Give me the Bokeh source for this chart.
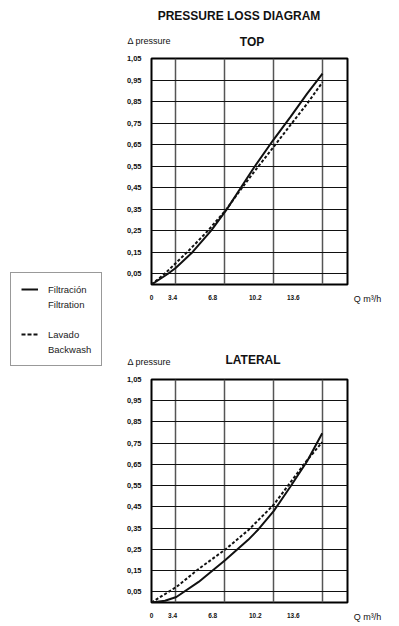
from bokeh.plotting import figure
from bokeh.layouts import row, column
from bokeh.models import Range1d, FixedTicker, Label, Legend, LegendItem
from bokeh.embed import file_html
from bokeh.resources import INLINE

FONT = "Liberation Sans"

# ---- data -------------------------------------------------------------
main_title = "PRESSURE LOSS DIAGRAM"
chart_titles = ["TOP", "LATERAL"]
y_title = "Δ pressure"
x_title = "Q m³/h"

x_grid = [1.7, 5.1, 8.5, 11.9]
x_tick_pos = [0, 1.47, 4.26, 7.22, 9.87]
x_tick_labels = ["0", "3.4", "6.8", "10.2", "13.6"]
x_end = 13.64

y_ticks = [0.05, 0.15, 0.25, 0.35, 0.45, 0.55, 0.65, 0.75, 0.85, 0.95, 1.05]
y_tick_labels = ["0,05", "0,15", "0,25", "0,35", "0,45", "0,55", "0,65",
                 "0,75", "0,85", "0,95", "1,05"]
y_grid = y_ticks[:-1]
y_end = 1.05

filt_label = ["Filtración", "Filtration"]
back_label = ["Lavado", "Backwash"]

top_filt_q = [0, 1.15, 1.7, 2.85, 4.15, 5.25, 6.17, 7.1, 8.46, 9.66, 10.83, 11.9]
top_filt_dp = [0, 0.05, 0.078, 0.15, 0.25, 0.35, 0.445, 0.54, 0.67, 0.778, 0.887, 0.98]
top_back_q = [0, 0.92, 2.48, 3.93, 5.22, 6.04, 7.1, 8.46, 9.66, 10.83, 11.9]
top_back_dp = [0, 0.05, 0.15, 0.25, 0.35, 0.426, 0.52, 0.636, 0.74, 0.84, 0.94]

lat_filt_q = [0, 0.94, 1.73, 3.28, 5.14, 6.73, 7.45, 8.5, 9.66, 10.83, 11.88]
lat_filt_dp = [0, 0.008, 0.026, 0.097, 0.2, 0.295, 0.345, 0.43, 0.545, 0.665, 0.797]
lat_back_q = [0, 0.45, 1.73, 3.28, 5.14, 6.73, 8.5, 9.66, 10.83, 11.88]
lat_back_dp = [0, 0.019, 0.073, 0.158, 0.25, 0.34, 0.46, 0.565, 0.67, 0.755]

INK = "#111111"


def text_fig(width, height):
    f = figure(width=width, height=height, output_backend="svg", toolbar_location=None,
               x_range=Range1d(0, width), y_range=Range1d(0, height),
               x_axis_type=None, y_axis_type=None, min_border=0)
    f.outline_line_color = None
    f.grid.visible = False
    return f


def add_label(f, x, y, text, size, bold=False, align="left"):
    f.add_layout(Label(x=x, y=y, text=text, text_font=FONT, text_font_size=size,
                       text_font_style="bold" if bold else "normal",
                       text_align=align, text_baseline="middle", text_color=INK))


def make_chart(height, b_bottom, fq, fdp, bq, bdp):
    p = figure(width=230, height=height, output_backend="svg", toolbar_location=None,
               x_range=Range1d(0, x_end), y_range=Range1d(0, y_end),
               min_border_left=28, min_border_right=6,
               min_border_top=5, min_border_bottom=b_bottom)
    p.outline_line_color = "black"
    p.outline_line_width = 2

    p.xaxis.ticker = FixedTicker(ticks=x_tick_pos)
    p.xaxis.major_label_overrides = {v: t for v, t in zip(x_tick_pos, x_tick_labels)}
    p.yaxis.ticker = FixedTicker(ticks=y_ticks)
    p.yaxis.major_label_overrides = {v: t for v, t in zip(y_ticks, y_tick_labels)}
    for ax in (p.xaxis, p.yaxis):
        ax.axis_line_color = None
        ax.major_tick_line_color = None
        ax.minor_tick_line_color = None
        ax.major_label_text_font = FONT
        ax.major_label_text_font_style = "bold"
        ax.major_label_text_color = INK
    p.xaxis.major_label_text_font_size = "6.5px"
    p.xaxis.major_label_standoff = 4
    p.yaxis.major_label_text_font_size = "7.5px"
    p.yaxis.major_label_standoff = 4

    p.xgrid.ticker = FixedTicker(ticks=x_grid)
    p.ygrid.ticker = FixedTicker(ticks=y_grid)
    p.xgrid.grid_line_color = "#555555"
    p.xgrid.grid_line_width = 1.5
    p.ygrid.grid_line_color = INK
    p.ygrid.grid_line_width = 1

    p.line(fq, fdp, line_color=INK, line_width=2)
    p.line(bq, bdp, line_color=INK, line_width=2, line_dash="3 2")
    return p


def q_axis_fig(height, b_bottom):
    # narrow panel right of the chart: its x axis carries the "Q m³/h" caption
    f = figure(width=44, height=height, output_backend="svg", toolbar_location=None,
               x_range=Range1d(0, 44), y_range=Range1d(0, y_end),
               y_axis_type=None, min_border_left=0, min_border_right=0,
               min_border_top=5, min_border_bottom=b_bottom)
    f.outline_line_color = None
    f.grid.visible = False
    f.xaxis.ticker = FixedTicker(ticks=[14])
    f.xaxis.major_label_overrides = {14: x_title}
    f.xaxis.axis_line_color = None
    f.xaxis.major_tick_line_color = None
    f.xaxis.minor_tick_line_color = None
    f.xaxis.major_label_text_font = FONT
    f.xaxis.major_label_text_font_size = "9px"
    f.xaxis.major_label_text_color = INK
    f.xaxis.major_label_standoff = 3
    return f


# top block
head_top = text_fig(274, 53)
add_label(head_top, 115.5, 38, main_title, "12px", bold=True, align="center")
add_label(head_top, 128.5, 11.5, chart_titles[0], "12px", bold=True, align="center")
add_label(head_top, 4, 13, y_title, "9px")

top = make_chart(267, 36, top_filt_q, top_filt_dp, top_back_q, top_back_dp)
q_top = q_axis_fig(267, 36)

# bottom block
head_bot = text_fig(274, 54)
add_label(head_bot, 129.5, 14.5, chart_titles[1], "12px", bold=True, align="center")
add_label(head_bot, 4, 12.5, y_title, "9px")

bottom = make_chart(250, 19, lat_filt_q, lat_filt_dp, lat_back_q, lat_back_dp)
q_bot = q_axis_fig(250, 19)

# legend panel (proxy renderers sit outside the visible ranges)
leg = figure(width=123, height=624, output_backend="svg", toolbar_location=None,
             x_range=Range1d(100, 101), y_range=Range1d(100, 101),
             x_axis_type=None, y_axis_type=None, min_border=0)
leg.outline_line_color = None
leg.grid.visible = False
r_f = leg.line(top_filt_q, top_filt_dp, line_color=INK, line_width=2)
r_b = leg.line(top_back_q, top_back_dp, line_color=INK, line_width=2, line_dash="4 2")
r_none = leg.line(top_filt_q, top_filt_dp, line_alpha=0)
legend = Legend(items=[LegendItem(label=filt_label[0], renderers=[r_f]),
                       LegendItem(label=filt_label[1], renderers=[r_none]),
                       LegendItem(label=" ", renderers=[r_none]),
                       LegendItem(label=back_label[0], renderers=[r_b]),
                       LegendItem(label=back_label[1], renderers=[r_none])],
                location=(10, 624 - 366), margin=0, padding=10, spacing=3,
                glyph_width=17, glyph_height=12, label_height=12, label_standoff=10,
                label_text_font=FONT, label_text_font_size="9.5px",
                label_text_color="#222222",
                border_line_color="#333333", border_line_width=1)
leg.add_layout(legend)

layout = row(leg, column(head_top, row(top, q_top), head_bot, row(bottom, q_bot)))

open("out.html", "w").write(file_html(layout, INLINE))
